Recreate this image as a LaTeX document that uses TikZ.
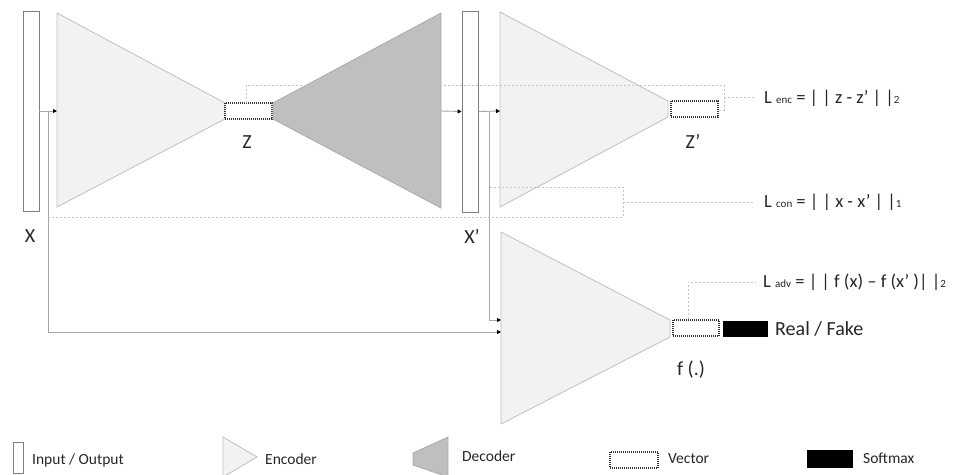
\documentclass[tikz,border=0pt]{standalone}
\usepackage{fontspec}
\setmainfont{Carlito}
\usetikzlibrary{arrows.meta}
\definecolor{encfill}{HTML}{F2F2F2}
\definecolor{encline}{HTML}{BFBFBF}
\definecolor{decfill}{HTML}{BFBFBF}
\definecolor{decline}{HTML}{ABABAB}
\definecolor{boxline}{HTML}{7F7F7F}
\definecolor{connline}{HTML}{A6A6A6}
\definecolor{lossline}{HTML}{C4C4C4}
\definecolor{txt}{HTML}{262626}
\newcommand\lsub[1]{{\fontsize{11}{11}\selectfont #1}}
\tikzset{
  enc/.style={fill=encfill, draw=encline, line width=0.8pt},
  dec/.style={fill=decfill, draw=decline, line width=0.8pt},
  iobox/.style={draw=boxline, fill=white, line width=0.9pt, minimum width=16pt, inner sep=0pt},
  vecbox/.style={draw=black!80, dash pattern=on 1pt off 1pt, line width=1.2pt, fill=white, inner sep=0pt, minimum width=47pt, minimum height=16pt},
  softbox/.style={fill=black, draw=black, inner sep=0pt, minimum width=44pt, minimum height=15pt},
  conn/.style={draw=connline, line width=0.9pt, -{Triangle[length=4pt,width=4pt,color=black]}},
  loss/.style={draw=lossline, line width=0.8pt, dash pattern=on 2pt off 2pt},
  lbl/.style={text=txt, inner sep=0pt, font=\fontsize{20}{22}\selectfont},
  eq/.style={text=txt, inner sep=0pt, anchor=base west, font=\fontsize{18.5}{21}\selectfont},
  leg/.style={text=txt, inner sep=0pt, anchor=base west, font=\fontsize{15.5}{17}\selectfont},
}
\begin{document}
\begin{tikzpicture}[x=1pt,y=-1pt]
\useasboundingbox (0,0) rectangle (958,474);

% ---------- main network ----------
\node[iobox, minimum height=200pt] (X) at (31,111) {};
\draw[enc] (57,13) -- (225,103) -- (225,119) -- (57,207) -- cycle;
\coordinate (e1in) at (57,111);
\node[vecbox] (Z) at (248.5,111) {};
\draw[dec] (273,103) -- (441,13) -- (441,208) -- (273,119) -- cycle;
\coordinate (decout) at (441,111);
\node[iobox, minimum height=201pt] (Xp) at (470,111.5) {};
\draw[enc] (500,12) -- (668,101) -- (668,117) -- (500,207) -- cycle;
\coordinate (e2in) at (500,111);
\node[vecbox] (Zp) at (694.5,109) {};
\draw[enc] (501,232) -- (670,320) -- (670,337) -- (501,424) -- cycle;
\coordinate (e3inA) at (501,320);
\coordinate (e3inB) at (501,332);
\node[vecbox, minimum width=46pt] (F) at (696,328) {};
\node[softbox] (S) at (745,328.5) {};

% ---------- connectors ----------
\coordinate (xsplit) at (48,111);
\coordinate (xpsplit) at (489,111);
\draw[conn] (X.east) -- (e1in);
\draw[conn] (decout) -- (Xp.west);
\draw[conn] (Xp.east) -- (e2in);
\draw[conn] (xsplit) |- (e3inB);
\draw[conn] (xpsplit) |- (e3inA);

% ---------- loss brackets ----------
\coordinate (encR) at (724,85);
\coordinate (encT) at (755,97);
\draw[loss] (246,103) -- (246,85) -- (encR) -- (724,110) -- (Zp.east |- 0,110);
\draw[loss] (724,97) -- (encT);
\coordinate (conR) at (623,217);
\coordinate (conT) at (753,202);
\draw[loss] (xsplit |- 0,217) -- (conR) -- (623,187) -- (xpsplit |- 0,187);
\draw[loss] (623,202) -- (conT);
\coordinate (advT) at (755,282);
\draw[loss] (F.north -| 688,0) -- (688,282) -- (advT);

% ---------- labels ----------
\node[lbl] (lx) at (30,236.5) {X};
\node[lbl] (lz) at (247,142) {Z};
\node[lbl] (lxp) at (472,236.5) {X’};
\node[lbl] (lzp) at (693,141.5) {Z’};
\node[lbl] (lf) at (691,370) {f (.)};
\node[lbl, anchor=base west] (lrf) at (775,335) {Real / Fake};
\node[eq] (lenc) at (764,103) {L \lsub{enc} = | | z - z’ | |\lsub{2}};
\node[eq] (lcon) at (764,207) {L \lsub{con} = | | x - x’ | |\lsub{1}};
\node[eq] (ladv) at (763,287) {L \lsub{adv} = | | f (x) – f (x’ )| |\lsub{2}};

% ---------- legend ----------
\node[iobox, minimum width=10pt, minimum height=31pt] (lgio) at (18,457.5) {};
\node[leg] (lgiot) at (32,464) {Input / Output};
\draw[enc] (223,437) -- (257,457) -- (223,477) -- cycle;
\node[leg] (lgenct) at (265,464) {Encoder};
\draw[dec] (448,437) -- (448,477) -- (413,465) -- (413,453) -- cycle;
\node[leg] (lgdect) at (462,461) {Decoder};
\node[vecbox, minimum width=48pt] (lgvec) at (634,460) {};
\node[leg] (lgvect) at (668,463) {Vector};
\node[softbox, minimum width=45pt, minimum height=17pt] (lgsm) at (829.5,458.5) {};
\node[leg] (lgsmt) at (863,463) {Softmax};
\end{tikzpicture}
\end{document}
